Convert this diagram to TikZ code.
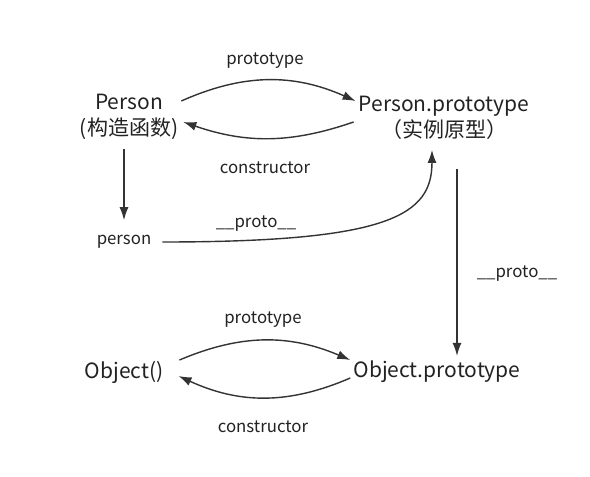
\documentclass[tikz,border=0pt]{standalone}
\usepackage{fontspec}
\setmainfont{Noto Sans CJK SC}
\usetikzlibrary{arrows.meta,positioning,calc}

\begin{document}
\begin{tikzpicture}[x=1pt,y=-1pt,
        big/.style={font=\fontsize{21}{26}\selectfont, align=center, inner sep=3pt, text=protoblack},
        small/.style={font=\fontsize{16.8}{18}\selectfont, inner sep=1pt, text=protoblack},
        arr/.style={draw=protogray, line width=1.4pt, -{Latex[length=13pt,width=9pt]}}]
        \definecolor{protoblack}{RGB}{34,34,34}
        \definecolor{protogray}{RGB}{51,51,51}

        % canvas in pixels of the reference
        \useasboundingbox[fill=white] (0,0) rectangle (590,477);

        % the five objects
        \node[big] (ctor) at (129,117) {Person\\(构造函数)};
        \node[big] (proto) at (444,118) {Person.prototype\\（实例原型）};
        \node[small] (inst) at (124,242) {person};
        \node[big] (obj) at (124,372) {Object()};
        \node[big] (oproto) at (437,372) {Object.prototype};

        % link labels
        \node[small] (l1) at (265,61) {prototype};
        \node[small] (l2) at (265,168) {constructor};
        \node[small] (l3) at (256,224) {\_\_proto\_\_};
        \node[small] (l4) at (517,274) {\_\_proto\_\_};
        \node[small] (l5) at (263,320) {prototype};
        \node[small] (l6) at (263,427) {constructor};

        % Person <-> Person.prototype
        \draw[arr] ([yshift=16pt]ctor.east) to[bend left=24] ([yshift=17pt]proto.west);
        \draw[arr] ([xshift=-2pt,yshift=-4pt]proto.west) to[bend left=19] ([xshift=2pt,yshift=-5pt]ctor.east);

        % Person -> person
        \draw[arr, shorten <=6pt, shorten >=14pt] (ctor.south -| inst) -- (inst.north);

        % person -> Person.prototype
        \draw[arr, shorten <=10pt, shorten >=7pt] (inst.east) .. controls (390,242) and (432,215) .. ([xshift=-12pt]proto.south);

        % Person.prototype -> Object.prototype
        \draw[arr, shorten <=26pt] ([xshift=13pt]proto.south) -- ([xshift=13pt,yshift=2pt]proto.south |- oproto.north);

        % Object() <-> Object.prototype
        \draw[arr] ([xshift=13pt,yshift=12pt]obj.east) to[bend left=23] ([yshift=12pt]oproto.west);
        \draw[arr] ([yshift=-6pt]oproto.west) to[bend left=24] ([xshift=12pt,yshift=-4pt]obj.east);
\end{tikzpicture}
\end{document}
